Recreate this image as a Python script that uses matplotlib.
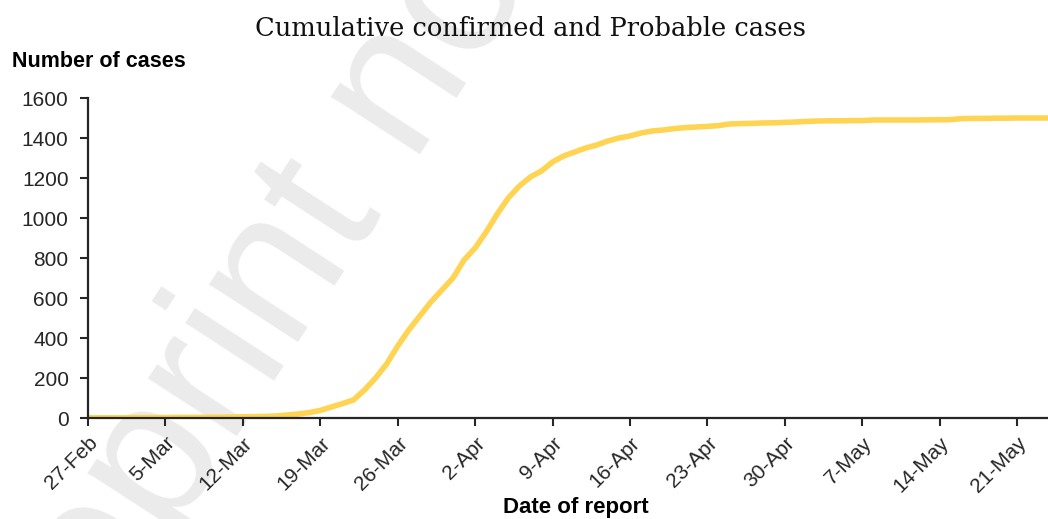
import matplotlib
matplotlib.use("Agg")
import matplotlib.pyplot as plt
import numpy as np

# cumulative cases per day, day 0 = 27-Feb
cases = [1, 1, 1, 1, 2, 2, 2, 2, 3, 3,
         3, 4, 4, 5, 6, 7, 8, 10, 15, 20,
         27, 38, 55, 72, 90, 140, 200, 270, 360, 440,
         510, 580, 640, 700, 790, 850, 930, 1020, 1100, 1160,
         1205, 1235, 1280, 1310, 1330, 1350, 1365, 1385, 1400, 1410,
         1425, 1435, 1440, 1447, 1452, 1455, 1458, 1462, 1470, 1472,
         1473, 1475, 1476, 1478, 1480, 1483, 1485, 1486, 1486, 1487,
         1487, 1490, 1490, 1490, 1490, 1490, 1491, 1491, 1492, 1497,
         1498, 1498, 1499, 1499, 1500, 1500, 1500, 1500]
tick_days = [0, 7, 14, 21, 28, 35, 42, 49, 56, 63, 70, 77, 84]
tick_labels = ["27-Feb", "5-Mar", "12-Mar", "19-Mar", "26-Mar", "2-Apr", "9-Apr",
               "16-Apr", "23-Apr", "30-Apr", "7-May", "14-May", "21-May"]
y_ticks = [0, 200, 400, 600, 800, 1000, 1200, 1400, 1600]

plt.rcParams['font.family'] = ['Liberation Sans', 'DejaVu Sans']

fig = plt.figure(figsize=(10.48, 5.19), dpi=100)
ax = fig.add_axes([88/1048, 101/519, 960/1048, 320/519])

# faint watermark behind everything
fig.text(0.010, -0.512, "preprint not peer reviewed", fontsize=145, color='#ebebeb',
         rotation=57, rotation_mode='anchor', ha='left', va='baseline', zorder=-1)
ax.set_facecolor('none')

days = np.arange(len(cases))
ax.plot(days, cases, color='#ffd452', lw=4, solid_joinstyle='round')

ax.set_xlim(0, 86.8)
ax.set_ylim(0, 1600)
ax.set_xticks(tick_days)
ax.set_xticklabels(tick_labels, rotation=45, ha='right', va='top', rotation_mode='anchor')
ax.set_yticks(y_ticks)
ax.tick_params(axis='both', labelsize=15, colors='#262626', length=6, width=1.5, direction='out')
ax.tick_params(axis='y', pad=8)
ax.tick_params(axis='x', pad=5)
ax.spines['top'].set_visible(False)
ax.spines['right'].set_visible(False)
for s in ['left', 'bottom']:
    ax.spines[s].set_color('#262626')
    ax.spines[s].set_linewidth(1.6)

fig.text(0.506, 0.946, "Cumulative confirmed and Probable cases", family='DejaVu Serif',
         fontsize=18.5, ha='center', va='center', color='#111111')
fig.text(0.0115, 0.881, "Number of cases", fontsize=15.5, fontweight='bold', ha='left', va='center')
fig.text(0.549, 0.023, "Date of report", fontsize=16, fontweight='bold', ha='center', va='center')

fig.savefig("out.png", dpi=100)
